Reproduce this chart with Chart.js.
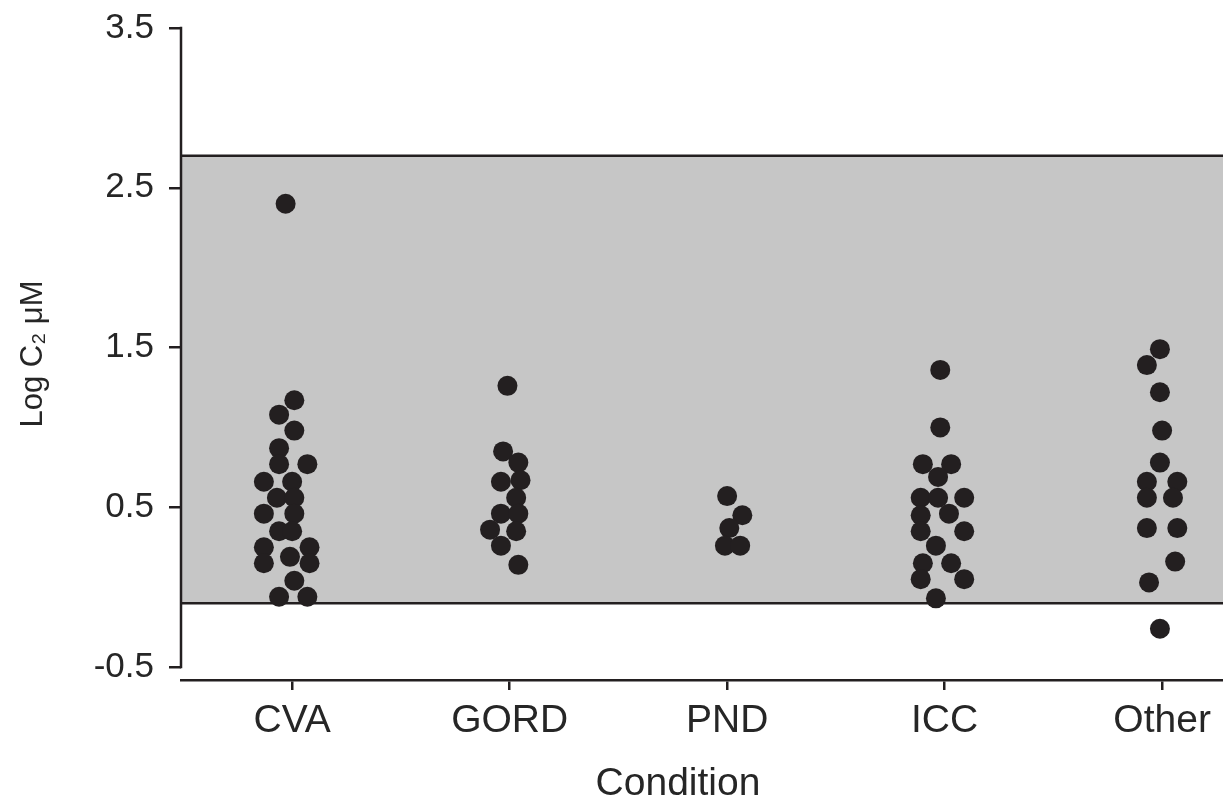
<!DOCTYPE html>
<html>
<head>
<meta charset="utf-8">
<script src="https://cdn.jsdelivr.net/npm/chart.js@4.4.1/dist/chart.umd.min.js"></script>
<style>
  html, body { margin: 0; padding: 0; background: #fff; }
  canvas { display: block; }
</style>
</head>
<body>
<canvas id="chart" width="1223" height="799"></canvas>
<script>
// categories along the x axis
var categories = ['CVA', 'GORD', 'PND', 'ICC', 'Other'];

// y ticks
var yTicks = [-0.5, 0.5, 1.5, 2.5, 3.5];
var yTickLabels = ['-0.5', '0.5', '1.5', '2.5', '3.5'];

// shaded reference range
var bandLow = -0.1;
var bandHigh = 2.7;

// Log C2 values per condition, with the horizontal scatter offset of each dot
var cvaValues  = [2.40, 1.17, 1.08, 0.98, 0.87, 0.77, 0.77, 0.66, 0.66, 0.56, 0.56, 0.46, 0.46, 0.35, 0.35, 0.25, 0.25, 0.15, 0.19, 0.15, 0.04, -0.06, -0.06];
var cvaOffsets = [-0.03, 0.01, -0.06, 0.01, -0.06, -0.06, 0.07, -0.13, 0.00, -0.07, 0.01, -0.13, 0.01, -0.06, 0.00, -0.13, 0.08, -0.13, -0.01, 0.08, 0.01, -0.06, 0.07];

var gordValues  = [1.26, 0.85, 0.78, 0.66, 0.67, 0.56, 0.46, 0.46, 0.36, 0.35, 0.26, 0.14];
var gordOffsets = [-0.01, -0.03, 0.04, -0.04, 0.05, 0.03, -0.04, 0.04, -0.09, 0.03, -0.04, 0.04];

var pndValues  = [0.57, 0.45, 0.37, 0.26, 0.26];
var pndOffsets = [0.00, 0.07, 0.01, -0.01, 0.06];

var iccValues  = [1.36, 1.00, 0.77, 0.77, 0.69, 0.56, 0.56, 0.56, 0.45, 0.46, 0.35, 0.35, 0.26, 0.15, 0.15, 0.05, 0.05, -0.07];
var iccOffsets = [-0.02, -0.02, -0.10, 0.03, -0.03, -0.11, -0.03, 0.09, -0.11, 0.02, -0.11, 0.09, -0.04, -0.10, 0.03, -0.11, 0.09, -0.04];

var otherValues  = [1.49, 1.39, 1.22, 0.98, 0.78, 0.66, 0.66, 0.56, 0.56, 0.37, 0.37, 0.16, 0.03, -0.26];
var otherOffsets = [-0.01, -0.07, -0.01, 0.00, -0.01, -0.07, 0.07, -0.07, 0.05, -0.07, 0.07, 0.06, -0.06, -0.01];

var groups = [
  [cvaValues, cvaOffsets],
  [gordValues, gordOffsets],
  [pndValues, pndOffsets],
  [iccValues, iccOffsets],
  [otherValues, otherOffsets]
];

var ink = '#231f20';
var textColor = '#262626';
var fontFamily = '"Liberation Sans", Arial, sans-serif';

var points = [];
groups.forEach(function (g, i) {
  g[0].forEach(function (v, j) {
    points.push({ x: i + 1 + g[1][j], y: v });
  });
});

// grey band + detached y axis line + x axis title
var bandPlugin = {
  id: 'band',
  beforeDatasetsDraw: function (chart) {
    var ctx = chart.ctx, area = chart.chartArea, y = chart.scales.y;
    var top = y.getPixelForValue(bandHigh);
    var bottom = y.getPixelForValue(bandLow);
    ctx.save();
    ctx.fillStyle = '#c6c6c6';
    ctx.fillRect(area.left, top, area.right - area.left, bottom - top);
    ctx.strokeStyle = ink;
    ctx.lineWidth = 2.5;
    ctx.beginPath();
    ctx.moveTo(area.left, top); ctx.lineTo(area.right, top);
    ctx.moveTo(area.left, bottom); ctx.lineTo(area.right, bottom);
    ctx.moveTo(area.left, y.getPixelForValue(yTicks[yTicks.length - 1]) - 1.25);
    ctx.lineTo(area.left, y.getPixelForValue(yTicks[0]) + 1.25);
    ctx.stroke();
    ctx.restore();
  },
  afterDraw: function (chart) {
    var ctx = chart.ctx, area = chart.chartArea;
    ctx.save();
    ctx.fillStyle = textColor;
    ctx.font = '39px ' + fontFamily;
    ctx.textAlign = 'center';
    ctx.textBaseline = 'alphabetic';
    ctx.fillText('Condition', (area.left + area.right) / 2 - 24, 795);
    ctx.restore();
  }
};

Chart.defaults.font.family = fontFamily;

new Chart(document.getElementById('chart'), {
  type: 'scatter',
  data: {
    datasets: [{
      data: points,
      backgroundColor: ink,
      borderWidth: 0,
      pointRadius: 10,
      pointHoverRadius: 10,
      clip: false
    }]
  },
  options: {
    responsive: false,
    animation: false,
    layout: { autoPadding: false, padding: { top: 28, right: 0, left: 0, bottom: 0 } },
    plugins: { legend: { display: false }, tooltip: { enabled: false } },
    scales: {
      x: {
        type: 'linear',
        min: 0.489,
        max: 5.28,
        afterBuildTicks: function (s) { s.ticks = categories.map(function (c, i) { return { value: i + 1 }; }); },
        afterFit: function (s) { s.height = 119; s.paddingLeft = 0; s.paddingRight = 0; },
        grid: { display: true, drawOnChartArea: false, drawTicks: true, tickLength: 10, lineWidth: 2.5, color: ink },
        border: { display: true, color: ink, width: 2.5 },
        ticks: {
          autoSkip: false, maxRotation: 0, padding: 8,
          font: { size: 39 }, color: textColor,
          callback: function (v) { return categories[Math.round(v) - 1]; }
        }
      },
      y: {
        min: -0.581,
        max: 3.5,
        afterBuildTicks: function (s) { s.ticks = yTicks.map(function (v) { return { value: v }; }); },
        afterFit: function (s) { s.width = 181; s.paddingTop = 0; s.paddingBottom = 0; },
        grid: { display: true, drawOnChartArea: false, drawTicks: true, tickLength: 12, lineWidth: 2.5, color: ink },
        border: { display: false },
        ticks: {
          padding: 15, font: { size: 35 }, color: textColor,
          callback: function (v) { return yTickLabels[yTicks.indexOf(v)]; }
        },
        title: { display: true, text: 'Log C\u2082 \u03bcM', color: textColor, font: { size: 31, lineHeight: 1 }, padding: { top: 18, bottom: 0 } }
      }
    }
  },
  plugins: [bandPlugin]
});
</script>
</body>
</html>
